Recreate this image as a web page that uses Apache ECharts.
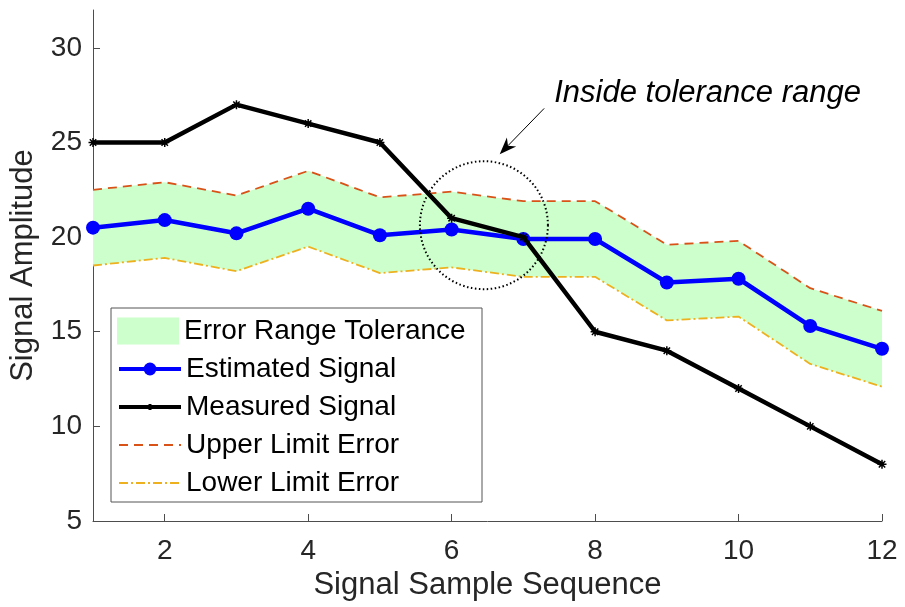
<!DOCTYPE html>
<html>
<head>
<meta charset="utf-8">
<script src="https://cdn.jsdelivr.net/npm/echarts@6/dist/echarts.min.js"></script>
<style>
  html, body { margin: 0; padding: 0; background: #fff; }
  #main { width: 905px; height: 607px; }
</style>
</head>
<body>
<div id="main"></div>
<script>
// 数据
var samples = [1, 2, 3, 4, 5, 6, 7, 8, 9, 10, 11, 12]
var estimated = [20.5, 20.9, 20.2, 21.5, 20.1, 20.4, 19.9, 19.9, 17.6, 17.8, 15.3, 14.1]
var measured = [25, 25, 27, 26, 25, 21, 20, 15, 14, 12, 10, 8]
var upperLimit = [22.5, 22.9, 22.2, 23.5, 22.1, 22.4, 21.9, 21.9, 19.6, 19.8, 17.3, 16.1]
var lowerLimit = [18.5, 18.9, 18.2, 19.5, 18.1, 18.4, 17.9, 17.9, 15.6, 15.8, 13.3, 12.1]
var xTicks = [2, 4, 6, 8, 10, 12]
var yTicks = [5, 10, 15, 20, 25, 30]

// 注释位置（数据坐标）
var noteCenter = [6.45, 20.63]
var arrowTail = [7.29, 26.8]
var arrowHead = [6.67, 24.38]
var noteTextAt = [7.43, 27.6]

var font = 'Liberation Sans, Arial, sans-serif'
var ink = '#262626'
// 星号标记，外框留白让图例里的星号小一点
var starSymbol = 'path://M0,0M20,20M10,5.5L10,14.5M5.5,10L14.5,10M6.8,6.8L13.2,13.2M13.2,6.8L6.8,13.2'

var chart = echarts.init(document.getElementById('main'))

function pairs (ys) {
  return samples.map(function (x, i) { return [x, ys[i]] })
}

var bandData = samples.map(function (x, i) { return [x, lowerLimit[i], upperLimit[i]] })

chart.setOption({
  animation: false,
  grid: { left: 93, right: 23, top: 10, bottom: 86 },
  xAxis: {
    type: 'value',
    min: 1,
    max: 12,
    name: 'Signal Sample Sequence',
    nameLocation: 'middle',
    nameGap: 49,
    nameTextStyle: { fontFamily: font, fontSize: 31, color: ink },
    axisLine: { show: true, lineStyle: { color: '#4d4d4d', width: 1 } },
    axisTick: { show: true, inside: true, length: 7, customValues: xTicks, lineStyle: { color: '#4d4d4d' } },
    axisLabel: { customValues: xTicks, margin: 16, fontFamily: font, fontSize: 28, color: ink },
    splitLine: { show: false }
  },
  yAxis: {
    type: 'value',
    min: 5,
    max: 32,
    name: 'Signal Amplitude',
    nameLocation: 'middle',
    nameGap: 54,
    nameTextStyle: { fontFamily: font, fontSize: 31, color: ink },
    axisLine: { show: true, lineStyle: { color: '#4d4d4d', width: 1 } },
    axisTick: { show: true, inside: true, length: 7, customValues: yTicks, lineStyle: { color: '#4d4d4d' } },
    axisLabel: { customValues: yTicks, margin: 11, fontFamily: font, fontSize: 28, color: ink },
    splitLine: { show: false }
  },
  legend: [{
    data: [{ name: 'Error Range Tolerance', icon: 'rect' }],
    orient: 'vertical',
    left: 117,
    top: 317,
    padding: 0,
    itemWidth: 62,
    itemHeight: 27,
    textStyle: { fontFamily: font, fontSize: 28, color: '#000' }
  }, {
    data: [
      { name: 'Estimated Signal', lineStyle: { width: 4 } },
      { name: 'Measured Signal', lineStyle: { width: 4 } },
      { name: 'Upper Limit Error', itemStyle: { opacity: 0 } },
      { name: 'Lower Limit Error', itemStyle: { opacity: 0 } }
    ],
    orient: 'vertical',
    left: 117,
    top: 355,
    padding: 0,
    itemWidth: 62,
    itemHeight: 16,
    itemGap: 10,
    textStyle: { fontFamily: font, fontSize: 28, color: '#000' }
  }],
  series: [{
    name: 'Error Range Tolerance',
    type: 'custom',
    data: bandData,
    itemStyle: { color: '#ccffcc' },
    z: 1,
    renderItem: function (params, api) {
      if (params.dataIndex !== 0) return
      var pts = []
      var i
      for (i = 0; i < bandData.length; i++) pts.push(api.coord([bandData[i][0], bandData[i][2]]))
      for (i = bandData.length - 1; i >= 0; i--) pts.push(api.coord([bandData[i][0], bandData[i][1]]))
      return {
        type: 'polygon',
        shape: { points: pts },
        style: { fill: '#ccffcc', stroke: 'none' }
      }
    }
  }, {
    name: 'Upper Limit Error',
    type: 'line',
    data: pairs(upperLimit),
    symbol: 'none',
    lineStyle: { color: '#D95319', width: 1.8, type: [9, 6] },
    itemStyle: { color: '#D95319' },
    z: 2
  }, {
    name: 'Lower Limit Error',
    type: 'line',
    data: pairs(lowerLimit),
    symbol: 'none',
    lineStyle: { color: '#EDB120', width: 1.8, type: [9, 3, 2, 3] },
    itemStyle: { color: '#EDB120' },
    z: 2
  }, {
    name: 'Estimated Signal',
    type: 'line',
    data: pairs(estimated),
    symbol: 'circle',
    symbolSize: 14,
    lineStyle: { color: '#0000ff', width: 4.5 },
    itemStyle: { color: '#0000ff' },
    z: 3
  }, {
    name: 'Measured Signal',
    type: 'line',
    data: pairs(measured),
    symbol: starSymbol,
    symbolSize: 20,
    lineStyle: { color: '#000', width: 4.5 },
    itemStyle: { color: '#000', borderColor: '#000', borderWidth: 1.5 },
    z: 4
  }]
})

// 注释：圆圈、箭头、文字
var c = chart.convertToPixel({ gridIndex: 0 }, noteCenter)
var t = chart.convertToPixel({ gridIndex: 0 }, arrowTail)
var h = chart.convertToPixel({ gridIndex: 0 }, arrowHead)
var tx = chart.convertToPixel({ gridIndex: 0 }, noteTextAt)
var dx = h[0] - t[0], dy = h[1] - t[1]
var len = Math.sqrt(dx * dx + dy * dy)
var ux = dx / len, uy = dy / len
var headL = 17, headW = 13
var b1 = [h[0] - ux * headL - uy * headW / 2, h[1] - uy * headL + ux * headW / 2]
var b2 = [h[0] - ux * headL + uy * headW / 2, h[1] - uy * headL - ux * headW / 2]
var notch = [h[0] - ux * headL * 0.7, h[1] - uy * headL * 0.7]

chart.setOption({
  graphic: [{
    type: 'rect',
    shape: { x: 111, y: 308, width: 371, height: 194 },
    style: { fill: '#fff', stroke: '#555', lineWidth: 1 },
    z: 3
  }, {
    type: 'circle',
    shape: { cx: c[0], cy: c[1], r: 64 },
    style: { fill: 'none', stroke: '#000', lineWidth: 2, lineDash: [1.5, 2.5] },
    z: 10
  }, {
    type: 'line',
    shape: { x1: t[0], y1: t[1], x2: notch[0], y2: notch[1] },
    style: { stroke: '#000', lineWidth: 1 },
    z: 10
  }, {
    type: 'polygon',
    shape: { points: [h, b1, notch, b2] },
    style: { fill: '#000' },
    z: 10
  }, {
    type: 'text',
    x: tx[0],
    y: tx[1],
    style: {
      text: 'Inside tolerance range',
      fontFamily: font,
      fontSize: 31,
      fontStyle: 'italic',
      fill: '#000',
      verticalAlign: 'middle'
    },
    z: 10
  }]
})
</script>
</body>
</html>
